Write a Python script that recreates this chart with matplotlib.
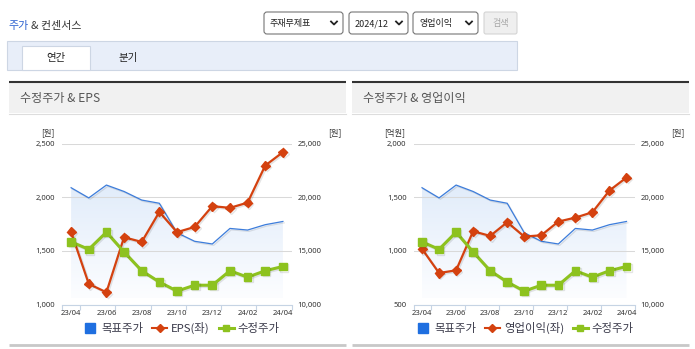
import numpy as np
import matplotlib.pyplot as plt
import matplotlib.patheffects as pe
from matplotlib.patches import Rectangle, FancyBboxPatch
from matplotlib.lines import Line2D
from matplotlib.colors import LinearSegmentedColormap

plt.rcParams['font.family'] = ['Noto Sans CJK KR', 'DejaVu Sans']

W, H = 695, 349

# 월별 데이터 (23/04 ~ 24/04)
months = ['23/04', '23/05', '23/06', '23/07', '23/08', '23/09', '23/10',
          '23/11', '23/12', '24/01', '24/02', '24/03', '24/04']
target_price = [20900, 19950, 21150, 20550, 19750, 19450, 16700,
                15900, 15650, 17100, 16950, 17450, 17750]
adj_price = [15850, 15150, 16750, 14900, 13150, 12100, 11250,
             11800, 11800, 13150, 12550, 13150, 13550]
eps = [1677, 1192, 1114, 1628, 1584, 1864, 1675,
       1724, 1918, 1902, 1951, 2297, 2422]
op_profit = [1019, 794, 819, 1184, 1140, 1268, 1134,
             1146, 1274, 1311, 1361, 1564, 1685]

price_ticks = [10000, 15000, 20000, 25000]
eps_ticks = [1000, 1500, 2000, 2500]
op_ticks = [500, 1000, 1500, 2000]

BLUE = '#3d7ddb'
RED = '#d4410f'
GREEN = '#8dc21f'
TXT = '#333333'

fig = plt.figure(figsize=(W / 100, H / 100), dpi=100)
fig.patch.set_facecolor('white')


def box(x0, y0, x1, y1):
    """픽셀 좌표(좌상단 기준)를 figure 비율로 변환"""
    return [x0 / W, 1 - y1 / H, (x1 - x0) / W, (y1 - y0) / H]


bg = fig.add_axes([0, 0, 1, 1])
bg.set_xlim(0, W)
bg.set_ylim(H, 0)
bg.axis('off')

# 상단 제목
bg.text(8, 26, '주가', color='#2d62d0', fontsize=7.9, va='center')
bg.text(31, 26, '& 컨센서스', color='#333333', fontsize=7.9, va='center')

# 선택 박스
for x0, x1, label in [(264, 343, '주재무제표'), (349, 408, '2024/12'), (413, 478, '영업이익')]:
    bg.add_patch(FancyBboxPatch((x0, 12), x1 - x0, 22, boxstyle='round,pad=0,rounding_size=3',
                                fc='white', ec='#767676', lw=0.8))
    bg.text(x0 + 6, 23.5, label, fontsize=6.5, color='#222222', va='center')
    bg.plot([x1 - 12, x1 - 9, x1 - 6], [21.5, 24.5, 21.5], color='#222222', lw=1.3)
bg.add_patch(FancyBboxPatch((484, 12), 33, 22, boxstyle='round,pad=0,rounding_size=2',
                            fc='#efefef', ec='#d4d4d4', lw=0.8))
bg.text(500.5, 23.5, '검색', fontsize=6.5, color='#a6a6a6', ha='center', va='center')

# 탭
bg.add_patch(Rectangle((7, 41), 510, 29, fc='#e8eef9', ec='#cdd6e4', lw=0.8))
bg.add_patch(Rectangle((22, 46), 68, 24, fc='white', ec='#cdd6e4', lw=0.8))
bg.text(56, 58.5, '연간', fontsize=7.5, color='#222222', ha='center', va='center')
bg.text(128, 58.5, '분기', fontsize=7.5, color='#222222', ha='center', va='center')

# 패널 헤더
for px0, px1, title in [(9, 346, '수정주가 & EPS'), (352, 689, '수정주가 & 영업이익')]:
    bg.add_patch(Rectangle((px0, 82), px1 - px0, 31, fc='#f1f1f1', ec='none'))
    bg.plot([px0, px1], [81.5, 81.5], color='#333333', lw=1.5, solid_capstyle='butt')
    bg.plot([px0, px1], [113.5, 113.5], color='#dddddd', lw=0.8)
    bg.plot([px0, px1], [344.5, 344.5], color='#c8c8c8', lw=2.0, solid_capstyle='butt')
    bg.text(px0 + 11, 98.5, title, fontsize=8.7, color='#555555', va='center')


def draw_chart(x0, x1, left_vals, left_lim, left_ticks, left_unit, series_name, leg_cx):
    x = np.arange(len(months))

    ax = fig.add_axes(box(x0, 143.8, x1, 304.5))
    ax.patch.set_alpha(0)
    ax_l = ax.twinx()
    ax_g = ax.twinx()

    # 목표주가 아래 그라데이션 영역
    poly = ax.fill_between(x, target_price, 10580, color='none', lw=0)
    grad = np.linspace(0, 1, 256).reshape(-1, 1)
    cmap = LinearSegmentedColormap.from_list('fade', ['#fcfdff', '#e1ecfa'])
    img = ax.imshow(grad, extent=[0, 12, 10580, max(target_price)], origin='lower',
                    aspect='auto', cmap=cmap, zorder=0.2)
    img.set_clip_path(poly.get_paths()[0], transform=ax.transData)

    shadow = [pe.SimpleLineShadow(offset=(1, -1), alpha=0.1), pe.Normal()]
    ax.plot(x, target_price, color=BLUE, lw=0.9, path_effects=shadow)

    ax.set_xlim(-0.5, 12.5)
    ax.set_ylim(10000, 25000)
    ax.yaxis.tick_right()
    ax.set_yticks(price_ticks)
    ax.set_yticklabels([f'{v:,}' for v in price_ticks], family='Noto Sans')
    ax.tick_params(axis='y', length=0, pad=4, labelsize=5.5, labelcolor=TXT)
    ax.yaxis.grid(True, color='#d9d9d9', lw=0.75)

    ax.set_xticks([-0.5, 0.5, 2.5, 4.5, 6.5, 8.5, 10.5, 12.5])
    ax.set_xticklabels([])
    ax.set_xticks(x[::2], minor=True)
    ax.set_xticklabels(months[::2], minor=True, family='Noto Sans')
    ax.tick_params(axis='x', which='major', length=3.5, width=0.8, color='#c6d4e4')
    ax.tick_params(axis='x', which='minor', length=0, pad=4, labelsize=5.5, labelcolor=TXT)
    for s in ['top', 'left', 'right']:
        ax.spines[s].set_visible(False)
    ax.spines['bottom'].set_color('#c6d4e4')
    ax.spines['bottom'].set_linewidth(0.8)

    # 좌측 축 시리즈 (EPS / 영업이익)
    ax_l.set_ylim(*left_lim)
    ax_l.plot(x, left_vals, color=RED, lw=1.6, marker='D', ms=4.6, path_effects=shadow)
    ax_l.yaxis.tick_left()
    ax_l.set_yticks(left_ticks)
    ax_l.set_yticklabels([f'{v:,}' for v in left_ticks], family='Noto Sans')
    ax_l.tick_params(axis='y', length=0, pad=5, labelsize=5.5, labelcolor=TXT)
    for s in ax_l.spines.values():
        s.set_visible(False)

    # 수정주가
    ax_g.set_ylim(10000, 25000)
    ax_g.set_xlim(-0.5, 12.5)
    ax_g.plot(x, adj_price, color=GREEN, lw=2.2, marker='s', ms=5.5, path_effects=shadow)
    ax_g.axis('off')

    # 단위
    bg.text(x0 - 8, 133, left_unit, fontsize=6, color=TXT, ha='right', va='center')
    bg.text(x1 + 50, 133, '[원]', fontsize=6, color=TXT, ha='right', va='center')

    handles = [
        Line2D([], [], ls='none', marker='s', ms=7.5, color='#1f6fe0'),
        Line2D([], [], color=RED, lw=1.5, marker='D', ms=4),
        Line2D([], [], color=GREEN, lw=2.2, marker='s', ms=5),
    ]
    fig.legend(handles, ['목표주가', series_name, '수정주가'], loc='center',
               bbox_to_anchor=(leg_cx / W, 1 - 328 / H), bbox_transform=fig.transFigure,
               ncol=3, frameon=False, fontsize=8.2, handlelength=1.3, handletextpad=0.35,
               columnspacing=0.8, labelcolor='#3a3a4a', borderpad=0)


draw_chart(62.3, 291.7, eps, (1000, 2500), eps_ticks, '[원]', 'EPS(좌)', 181)
draw_chart(413.5, 635, op_profit, (500, 2000), op_ticks, '[억원]', '영업이익(좌)', 524.5)

fig.savefig('out.png', dpi=100)
